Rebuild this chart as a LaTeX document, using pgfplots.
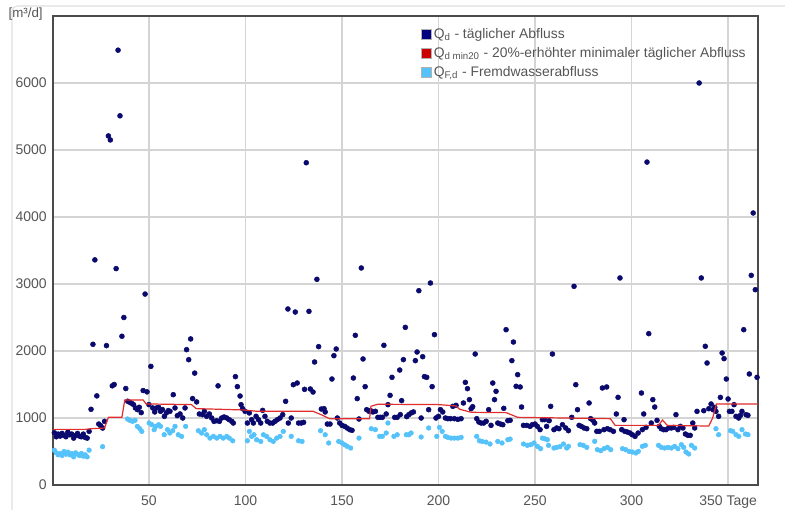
\documentclass[border=0pt]{standalone}
\usepackage{pgfplots}
\pgfplotsset{compat=1.18}
\usepackage{fontspec}
\setmainfont{Liberation Sans}

\definecolor{qd}{RGB}{10,10,110}
\definecolor{qdleg}{RGB}{0,0,128}
\definecolor{qmin}{RGB}{225,45,45}
\definecolor{qminleg}{RGB}{204,0,0}
\definecolor{qf}{RGB}{85,195,250}
\definecolor{frame}{RGB}{75,75,75}
\definecolor{gridc}{RGB}{212,212,212}
\definecolor{txt}{RGB}{85,85,85}

\begin{document}
\begin{tikzpicture}
% 1 px = 0.75 pt, page 785 x 510 px
\path[use as bounding box] (0,0) rectangle (588.75pt,382.5pt);
\draw[gray!25, line width=0.8pt, rounded corners=4pt] (9pt,-20pt) rectangle (620pt,378pt);

\begin{axis}[
    at={(39.75pt,18.75pt)}, anchor=south west,
    scale only axis,
    width=528.75pt, height=351.75pt,
    xmin=0.3, xmax=365.5,
    ymin=0, ymax=7000,
    xtick={50,100,150,200,250,300,350},
    xticklabels={50,100,150,200,250,300,350 Tage},
    ytick={0,1000,2000,3000,4000,5000,6000},
    /pgf/number format/1000 sep={},
    /pgf/number format/assume math mode=true,
    major tick length=0pt,
    tick label style={font=\fontsize{10.5}{12}\selectfont, text=txt, inner sep=0pt},
    xticklabel style={yshift=-8pt},
    yticklabel style={xshift=-4.5pt},
    grid=major,
    major grid style={gridc, line width=1pt},
    axis line style={frame, line width=1.6pt},
    clip mode=individual,
    legend style={at={(0.522,0.979)}, anchor=north west, draw=none, fill=none,
        font=\fontsize{10.4}{12}\selectfont, text=txt, row sep=2.2pt, inner sep=0pt,
        nodes={inner sep=1.5pt}},
    legend cell align=left,
]

% legend images
\addlegendimage{legend image code/.code={\fill[qdleg, draw=gray!60, line width=0.3pt] (0pt,-3.9pt) rectangle (7.6pt,3.9pt);}}
\addlegendentry{Q\textsubscript{d} - täglicher Abfluss}
\addlegendimage{legend image code/.code={\fill[qminleg, draw=gray!60, line width=0.3pt] (0pt,-3.9pt) rectangle (7.6pt,3.9pt);}}
\addlegendentry{Q\textsubscript{d min20} - 20\%-erhöhter minimaler täglicher Abfluss}
\addlegendimage{legend image code/.code={\fill[qf, draw=gray!60, line width=0.3pt] (0pt,-3.9pt) rectangle (7.6pt,3.9pt);}}
\addlegendentry{Q\textsubscript{F,d} - Fremdwasserabfluss}

% Q_F,d - Fremdwasserabfluss
\addplot[only marks, mark=*, mark size=1.75pt, color=qf, forget plot] coordinates {
(1,520) (2,480) (3,450) (4,470) (5,440) (6,500) (7,460) (8,490) (9,450) (10,470)
(11,420) (12,480) (13,460) (14,440) (15,470) (16,430) (17,450) (18,420) (19,520) (26,572)
(38.9,985) (40.1,965) (41.5,950) (42.8,965) (44,875) (45.3,840) (46.3,800)
(50.1,925) (51.5,900) (52.7,826) (53.5,875) (55,900) (56,875) (57.9,751) (59.6,826) (60.8,776)
(62.3,810) (63.5,875) (65.2,750) (66.9,725) (69,875) (75.6,810) (77.3,775) (78.7,826) (79.9,750)
(81.6,700) (83.4,725) (85.1,700) (86.8,725) (88.5,700) (90.3,725) (91.6,700) (93.4,660)
(101,660) (102,800) (103.2,725) (104.4,750) (105.8,675) (107.9,650) (109.3,750) (111,725)
(112.7,675) (114.4,650) (116.2,700) (117.9,725) (119.6,800)
(123.7,726) (127.5,660) (129.3,650) (138.9,810) (141.3,750) (143.1,627) (148.3,650) (150,627)
(151.4,600) (152.7,577) (154.5,552) (158.8,700) (165.2,840) (167.3,826) (169.5,726) (170.9,726)
(172.9,776) (173.8,925) (176.9,726) (178.6,750) (183.3,750)
(184.6,750) (185.8,776) (191,716) (194.9,851) (199.1,726) (200.5,860) (201.9,800) (203.6,726)
(204.8,711) (206.5,700) (208.2,700) (210,700) (211.7,711) (219.8,726) (221.2,660) (222.6,650)
(224.6,640) (226.7,612) (230.7,650) (232.9,627) (235.9,676) (237.1,686) (244,612)
(246,592) (247.8,602) (249.5,627) (251.2,577) (252.9,542) (253.8,700) (255,690) (256.4,676)
(257,592) (259.8,552) (261.2,562) (262.9,572) (264.7,612) (266.4,552) (267.3,577) (273.3,602)
(275,592) (276.8,562) (280.9,652) (282.3,527) (284,512) (285.7,542) (287.5,562) (289.2,527)
(295.3,542) (297,527) (298.7,502) (300.4,492) (302.2,478) (303.5,502) (305.6,577)
(307.1,592) (314,592) (315.4,562) (317.1,552) (318.9,562) (320.6,552) (322.3,577) (324,542)
(325.8,602) (327,562) (328.2,492) (329.6,463) (331,592) (332.7,552) (343.7,840) (345.1,751)
(351.2,811) (352.4,801) (354.1,751) (355.5,726) (357.2,826) (359,761) (360.3,751)
};

% Q_d - taeglicher Abfluss
\addplot[only marks, mark=*, mark size=1.85pt, color=qd, forget plot] coordinates {
(1,780) (2,720) (3,760) (4,730) (5,770) (6,740) (7,720) (8,790) (9,750) (10,760)
(11,700) (12,740) (13,770) (14,730) (15,720) (16,760) (17,710) (18,700) (19,800) (20,1130)
(21,2100) (22,3360) (23,1330) (24,910) (25,885) (26,850) (27,950) (28,2080) (29,5210) (30,5150)
(31,1480) (32,1500) (33,3230) (34,6490) (35,5510) (36,2220) (37,2500) (38,1440) (39,1250) (40,1235)
(41,1220) (42,1200) (43,1150) (44,1125) (45,1160) (46,1080) (47,1410) (48,2850) (49,1390) (50,1200)
(51,1770) (52,1150) (53,1090) (54,1150) (55,1160) (56,1100) (57,1125) (58,1025) (59,1075) (60,1110)
(60.9,1100) (62.6,1348) (63.5,1150) (64.7,1035) (66.1,1060) (67.5,1000) (68.7,1150) (69.5,2020)
(70.6,1870) (71.6,2180) (72.6,1290) (73.7,1670) (74.7,1240) (76.1,1060) (77.7,1050) (78.7,1100)
(79.9,1025) (81.3,1060) (82.5,1000) (83.7,950) (85.1,960) (85.8,1480) (86.5,950) (87.7,1000)
(88.9,1015) (90.3,1000) (91.6,975) (92.9,950) (93.7,925) (94.8,1617) (95.8,1468) (97.2,1328)
(97.7,1199) (98.5,1140) (99.8,1100) (101,925) (102,1075) (103.2,975) (104.1,925) (105.5,1025)
(106.7,975) (107.9,925) (108.9,1114) (110.1,1025) (111.3,950) (112.7,925) (114.1,925) (115.3,950)
(116.5,975) (117.9,1000) (119.3,1050) (120.8,1249) (122,2627) (122.2,925)
(123.7,1000) (124.8,1497) (125.8,2582) (126.8,1522) (127.5,925) (128.9,925) (130.1,935) (130.6,1428)
(131.5,4810) (132.9,2592) (133.6,1433) (135,1388) (135.8,1836) (137,3070) (137.9,2065) (139.3,1134)
(140.7,1139) (141.3,1090) (142.4,910) (143.8,910) (144.8,1582) (145.8,1930) (147,2030) (147.6,1000)
(148.8,925) (150,890) (151.4,875) (152.7,850) (154,826) (155.2,816) (155.9,1597) (156.9,2234)
(157.9,1289) (158.8,985) (160,3239) (160.9,1881) (162,1468) (162.8,1124) (164,1100) (164.8,1110)
(166,1090) (167.3,1100) (168.6,1010) (169.8,1010) (170.9,1010) (171.7,2085) (172.9,1060) (173.8,1199)
(174.9,1338) (175.9,1607) (177.3,1010) (178.6,1010) (179.9,1716) (180.2,1050) (180.9,1259) (181.8,1871)
(182.8,2353) (183.5,1020)
(184.6,1050) (185.8,1075) (187,1090) (188,1856) (188.9,1985) (189.8,2900) (191,1000) (191.8,1915)
(192.7,1617) (193.9,1607) (194.9,1124) (195.8,3015) (196.7,1468) (197.9,2244) (198.7,1000) (200,1025)
(201,1124) (202.2,1090) (203.6,1000) (204.8,990) (206.2,990) (207.4,1174) (208.2,990) (209.1,1189)
(210,980) (211.7,990) (212.9,1224) (213.9,1532) (215,1438) (216,1274) (216.9,1139) (217.7,1169)
(219,1955) (219.8,990) (220.9,940) (222.1,925) (223.4,925) (224.7,950) (226,1124) (227.2,890)
(228.1,1522) (229,1274) (229.8,1398) (230.7,925) (232.1,910) (233.3,900) (233.8,1144) (235,2318)
(235.9,960) (237.1,965) (238,1856) (238.8,2134) (240.2,1473) (241,1647) (242.3,1463) (243,1164)
(244,890)
(245.7,890) (247.4,875) (248.6,900) (250,910) (251.2,875) (252.6,826) (253.8,975) (255,975)
(256,875) (257.3,960) (258.1,1174) (259,1955) (259.8,826) (261.2,851) (262.4,840) (264.2,900)
(265.9,851) (267.3,811) (269,1010) (270.2,2965) (271.1,1497) (272,1124) (272.8,890) (274,875)
(275.4,851) (276.8,840) (278,1224) (278.8,990) (280,965) (280.9,925) (282,801) (283.3,801)
(284.9,1448) (285.7,826) (287.1,1463) (287.5,840) (288.9,826) (290.6,801) (292.1,1060) (293,1308)
(294,3090) (294.9,826) (296.1,975) (296.5,801) (297.8,791) (299.2,776) (300.4,750) (301.8,726)
(303.4,776) (305.1,1373) (305.6,826)
(306.3,1060) (307.5,860) (308,4820) (308.9,2259) (310.2,925) (311,1274) (312,1164) (313.2,965)
(314.4,875) (315.4,840) (316.6,826) (317.8,826) (319.2,851) (320.6,851) (321.8,860) (323,1050)
(324,826) (325.3,875) (326.6,851) (327.9,761) (329.2,741) (330.4,741) (331.7,925) (332.7,851)
(333.9,1099) (335,6000) (336.1,3090) (337.4,1109) (338.2,2070) (339.1,1821) (340,1139) (341.2,1209)
(342.2,1124) (343.1,1159) (343.7,1099) (345.1,1025) (346,1308) (346.9,1970) (347.9,1886) (349.1,1582)
(350,1284) (350.7,1099) (352,1099) (353.1,1199) (354.1,1025) (355.5,1000) (356.4,1040) (357.2,1099)
(358.1,2318) (359.3,1050) (360.3,1040) (361,1657) (362,3129) (363,4060) (364.1,2915) (365,1607)
};

% Q_d min20 - 20%-erhoehter minimaler taeglicher Abfluss
\addplot[color=qmin, line width=0.9pt, forget plot] coordinates {
(0.3,830) (17,830) (20,840) (27,850) (29,1010) (36,1010) (37.5,1270) (47,1270) (48.5,1210)
(72,1200) (74.5,1140) (99,1120) (106,1100) (135,1100) (140,1040) (143.5,990) (164.3,990)
(165,1175) (168.5,1205) (200,1200) (209,1180) (211,1130) (217,1085) (235,1080) (241,1010)
(289,990) (291.5,890) (314,890) (316,970) (318.5,890) (340,880) (342,1000) (344,1210) (365.5,1210)
};

\end{axis}
\node[anchor=east, font=\fontsize{10}{11}\selectfont, text=txt] at (35.5pt,372pt) {[m³/d]};
\end{tikzpicture}
\end{document}
